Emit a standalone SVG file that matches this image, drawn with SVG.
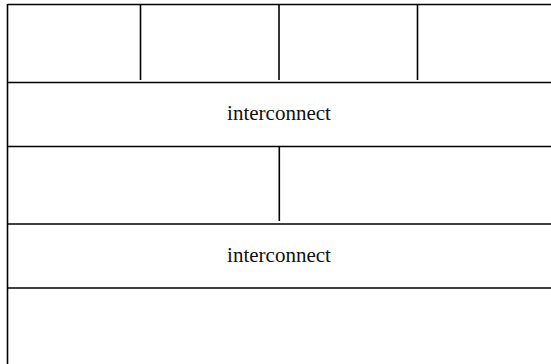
<svg xmlns="http://www.w3.org/2000/svg" width="551" height="364" viewBox="0 0 551 364">
  <style>
    .rule { stroke: #000; stroke-width: 1.6; fill: none; }
    .label { font-family: "Liberation Serif", "Times New Roman", serif; font-size: 21px; fill: #111; text-anchor: middle; }
  </style>
  <rect width="551" height="364" fill="#fff"/>
  <!-- outer frame: top edge and left edge, layer separators run to the right edge -->
  <g id="frame">
    <line class="rule" x1="7.5" y1="4.5" x2="551" y2="4.5"/>
    <line class="rule" x1="7.5" y1="4" x2="7.5" y2="364"/>
    <line class="rule" x1="7.5" y1="82.5" x2="551" y2="82.5"/>
    <line class="rule" x1="7.5" y1="146.5" x2="551" y2="146.5"/>
    <line class="rule" x1="7.5" y1="224" x2="551" y2="224"/>
    <line class="rule" x1="7.5" y1="288" x2="551" y2="288"/>
  </g>
  <!-- top layer: four cells -->
  <g id="top-cells">
    <line class="rule" x1="140.5" y1="4.5" x2="140.5" y2="80"/>
    <line class="rule" x1="279" y1="4.5" x2="279" y2="80"/>
    <line class="rule" x1="417.5" y1="4.5" x2="417.5" y2="80"/>
  </g>
  <g id="interconnect-1">
    <text class="label" x="279" y="120">interconnect</text>
  </g>
  <!-- middle layer: two cells -->
  <g id="middle-cells">
    <line class="rule" x1="279.3" y1="146.5" x2="279.3" y2="221"/>
  </g>
  <g id="interconnect-2">
    <text class="label" x="279" y="261.5">interconnect</text>
  </g>
  <!-- bottom layer -->
  <g id="bottom-cell"></g>
</svg>
